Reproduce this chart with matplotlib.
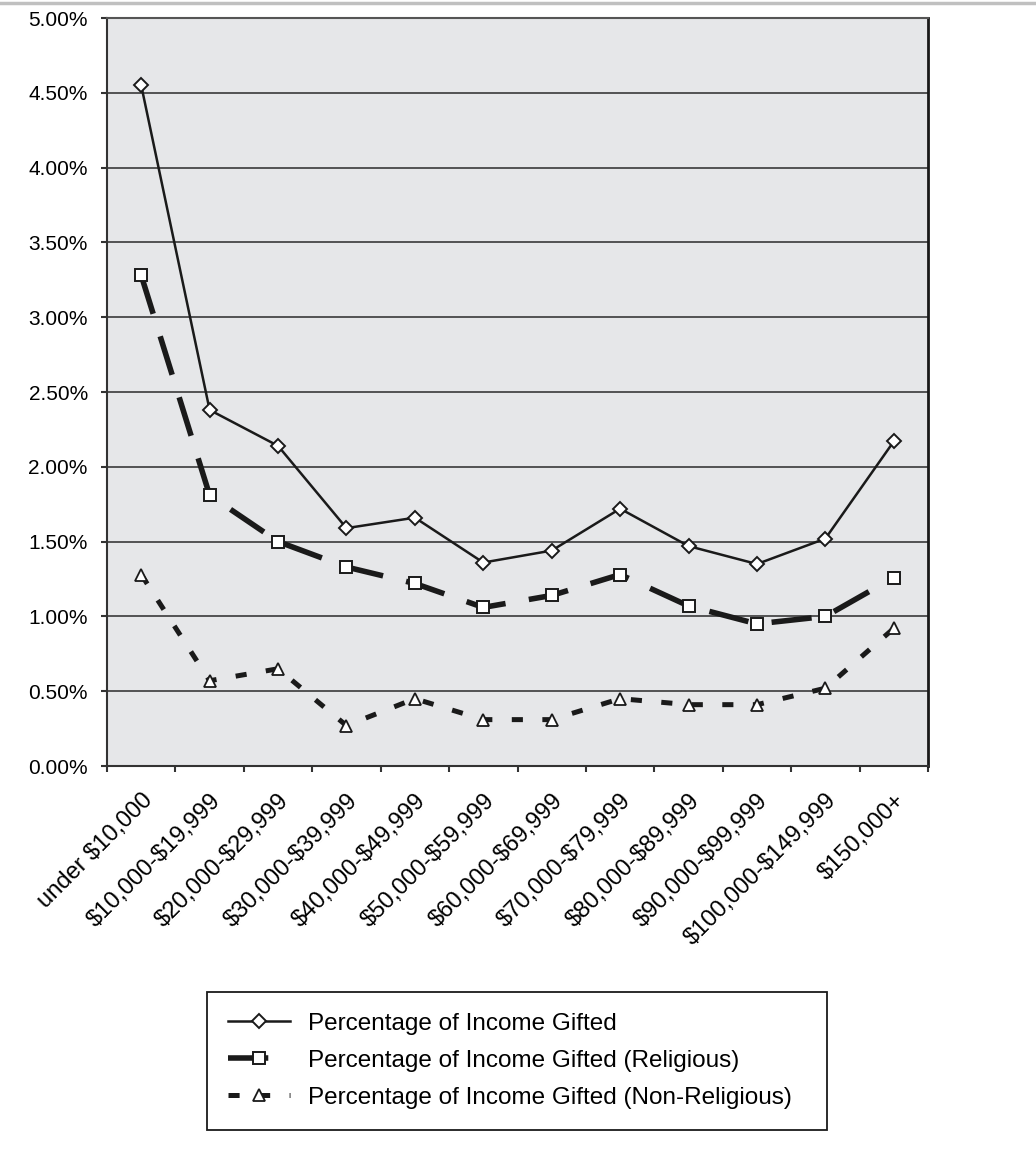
import matplotlib
matplotlib.use("Agg")
import matplotlib.pyplot as plt
from matplotlib.lines import Line2D
from matplotlib.ticker import MultipleLocator, FuncFormatter

plt.rcParams['font.family'] = ['Liberation Sans', 'DejaVu Sans']
plt.rcParams['lines.scale_dashes'] = False
plt.rcParams['text.parse_math'] = False

brackets = ["under $10,000", "$10,000-$19,999", "$20,000-$29,999", "$30,000-$39,999",
            "$40,000-$49,999", "$50,000-$59,999", "$60,000-$69,999", "$70,000-$79,999",
            "$80,000-$89,999", "$90,000-$99,999", "$100,000-$149,999", "$150,000+"]
total = [4.55, 2.38, 2.14, 1.59, 1.66, 1.36, 1.44, 1.72, 1.47, 1.35, 1.52, 2.17]
religious = [3.28, 1.81, 1.50, 1.33, 1.22, 1.06, 1.14, 1.28, 1.07, 0.95, 1.00, 1.26]
non_religious = [1.28, 0.57, 0.65, 0.27, 0.45, 0.31, 0.31, 0.45, 0.41, 0.41, 0.52, 0.92]

W, H = 1036, 1149
fig = plt.figure(figsize=(W / 100, H / 100), dpi=100)
ax = fig.add_axes([107 / W, 1 - 766 / H, (928 - 107) / W, (766 - 18) / H])
ax.set_facecolor('#e6e7e9')

x = list(range(len(brackets)))
ax.plot(x, total, color='#1a1a1a', lw=1.8, marker='D', ms=7.5, mfc='white', mec='#1a1a1a',
        mew=1.4, label='Percentage of Income Gifted', zorder=4)
ax.plot(x, religious, color='#1a1a1a', lw=4.0, dashes=(29, 17), marker='s', ms=8,
        mfc='white', mec='#1a1a1a', mew=1.4, label='Percentage of Income Gifted (Religious)', zorder=3)
ax.plot(x, non_religious, color='#1a1a1a', lw=3.6, dashes=(8, 14), marker='^', ms=8.5,
        mfc='white', mec='#1a1a1a', mew=1.3, label='Percentage of Income Gifted (Non-Religious)', zorder=3)

ax.set_xlim(-0.5, len(brackets) - 0.5)
ax.set_ylim(0, 5)
ax.yaxis.set_major_locator(MultipleLocator(0.5))
ax.yaxis.set_major_formatter(FuncFormatter(lambda v, p: f"{v:.2f}%"))
ax.grid(axis='y', color='#3a3a3a', lw=1.2)
ax.set_axisbelow(True)

ax.set_xticks([i - 0.5 for i in range(len(brackets) + 1)], minor=False)
ax.set_xticklabels([])
ax.set_xticks(x, minor=True)
ax.set_xticklabels(brackets, minor=True, rotation=45, ha='right', va='top',
                   rotation_mode='anchor', fontsize=17)
ax.tick_params(axis='x', which='minor', length=0, pad=17)
ax.tick_params(axis='x', which='major', length=4.3, width=1.5, color='#333333')
ax.tick_params(axis='y', length=4.3, width=1.5, color='#333333', labelsize=15, pad=9.5)

for s in ['left', 'bottom']:
    ax.spines[s].set_color('#333333')
    ax.spines[s].set_linewidth(1.5)
ax.spines['top'].set_color('#555555')
ax.spines['top'].set_linewidth(1.5)
ax.spines['right'].set_color('#1a1a1a')
ax.spines['right'].set_linewidth(2)

leg = ax.legend(loc='upper left', bbox_to_anchor=(207 / W, 1 - 992 / H, (827 - 207) / W, 0),
                bbox_transform=fig.transFigure, mode='expand', fontsize=17.5, frameon=True,
                fancybox=False, edgecolor='#1a1a1a', framealpha=1, handlelength=2.55,
                handletextpad=0.75, labelspacing=0.62, borderpad=0.85, borderaxespad=0)
leg.get_frame().set_linewidth(1.3)

fig.add_artist(Line2D([0, 1], [1 - 3 / H, 1 - 3 / H], transform=fig.transFigure,
                      color='#c0c0c0', lw=2.5))

fig.savefig('out.png', dpi=100)
